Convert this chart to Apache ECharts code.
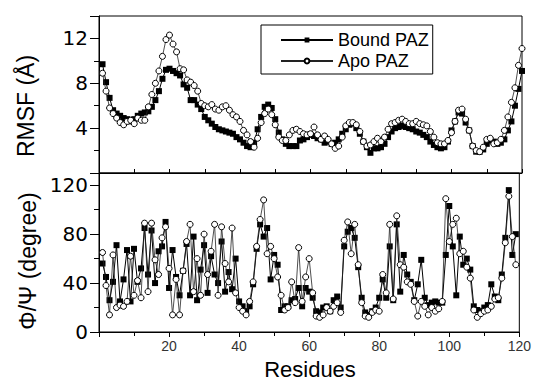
<!DOCTYPE html>
<html><head><meta charset="utf-8">
<script src="https://cdn.jsdelivr.net/npm/echarts@6/dist/echarts.min.js"></script>
<style>html,body{margin:0;padding:0;background:#fff}#c{width:534px;height:380px}</style>
</head><body><div id="c"></div>
<script>
const residues = [1,2,3,4,5,6,7,8,9,10,11,12,13,14,15,16,17,18,19,20,21,22,23,24,25,26,27,28,29,30,
31,32,33,34,35,36,37,38,39,40,41,42,43,44,45,46,47,48,49,50,51,52,53,54,55,56,57,58,59,60,
61,62,63,64,65,66,67,68,69,70,71,72,73,74,75,76,77,78,79,80,81,82,83,84,85,86,87,88,89,90,
91,92,93,94,95,96,97,98,99,100,101,102,103,104,105,106,107,108,109,110,111,112,113,114,115,116,117,118,119,120];

const boundRmsf = [9.7,8.1,6.7,5.6,5.3,5.1,4.9,4.8,4.6,4.8,
5.1,5.3,5.4,5.5,5.9,6.5,7.3,8.4,9.2,9.3,
9.1,8.9,8.7,7.9,7.6,6.5,6.5,6.1,5.7,5.0,
4.7,4.4,4.1,3.9,3.8,3.7,3.6,3.5,3.2,3.0,
2.7,2.4,2.3,2.7,3.9,5.0,5.9,6.1,5.8,4.8,
3.6,3.0,2.6,2.4,2.4,2.4,2.9,3.0,3.2,3.4,
3.3,3.1,3.0,2.7,2.8,2.6,2.7,3.0,3.5,3.9,
4.3,4.4,4.0,3.5,2.8,2.3,1.8,2.2,2.2,2.3,
2.6,3.2,3.7,4.0,4.1,4.2,4.1,4.0,3.9,3.7,
3.6,3.4,3.2,2.8,2.5,2.3,2.2,2.3,2.8,3.8,
4.6,5.4,5.3,4.5,3.8,2.4,1.9,1.9,2.1,2.6,
2.9,2.8,2.6,2.7,3.0,3.8,4.6,6.0,7.5,9.1];

const apoRmsf = [8.9,7.3,5.8,5.3,4.9,4.5,4.3,4.6,4.7,4.4,
4.9,4.7,4.7,5.9,7.0,8.0,9.1,10.4,11.9,12.3,
11.5,10.8,9.3,9.2,8.3,8.1,7.8,7.3,6.2,6.0,
5.9,6.1,5.7,5.6,5.9,6.0,5.6,5.2,5.0,4.6,
3.8,3.4,2.8,2.3,3.1,4.5,5.3,5.7,5.2,4.3,
3.2,2.9,2.9,3.4,3.8,3.9,3.7,3.5,3.4,3.5,
4.1,3.4,3.0,3.3,3.0,2.6,2.2,2.4,3.2,4.2,
4.5,4.5,4.3,3.7,2.8,2.4,2.5,2.8,3.1,2.8,
3.2,3.9,4.4,4.5,4.7,4.8,4.6,4.4,4.4,4.6,
4.4,4.3,4.2,3.7,3.2,2.7,2.6,2.6,2.9,3.6,
4.6,5.6,5.7,4.8,3.8,2.4,2.0,1.9,2.3,3.0,
3.1,2.6,2.7,3.0,3.8,5.0,6.3,7.6,9.6,11.1];

const boundPhiPsi = [56,45,26,41,71,25,43,67,25,68,
41,52,85,47,83,40,66,70,90,36,
67,45,30,50,72,30,78,26,51,71,
32,62,47,40,74,33,49,35,60,25,
21,17,21,39,68,88,78,85,43,63,
55,18,21,21,26,27,36,21,36,33,
28,17,16,20,21,17,26,29,20,70,
82,85,77,53,28,16,14,17,20,28,
43,28,70,26,88,33,63,47,41,26,
39,59,28,22,24,25,24,24,63,103,
70,30,78,55,60,51,21,18,17,20,
22,39,29,26,47,77,116,63,80];

const apoPhiPsi = [65,38,14,63,20,22,21,25,62,30,
42,28,89,33,89,59,47,77,86,52,
14,43,14,50,74,88,33,60,30,80,
47,66,88,30,86,56,41,85,32,20,
17,14,25,41,70,92,108,64,70,60,
45,30,18,20,41,24,69,25,45,60,
32,13,12,14,20,17,21,24,16,75,
90,64,88,55,24,13,12,16,18,17,
47,32,88,27,95,55,53,41,39,25,
13,25,21,14,20,17,19,25,109,74,
88,93,64,66,53,44,18,12,15,17,
18,21,27,28,44,73,111,78,55];

const rmsfTickLabels = [4, 8, 12];
const phiTickLabels = [0, 40, 80, 120];
const residueTickLabels = [20, 40, 60, 80, 100, 120];
const seriesNames = ['Bound PAZ', 'Apo PAZ'];
const rmsfTitle = 'RMSF (Å)';
const phiTitle = 'Φ/Ψ (degree)';
const xTitle = 'Residues';

function pairs(vals) { return vals.map((v, i) => [residues[i], v]); }

const FONT = '"Liberation Sans", Arial, sans-serif';
const NUMFONT = '"DejaVu Sans", sans-serif';
const BLACK = '#000';

const boundStyle = {
  symbol: 'rect', symbolSize: 6, showAllSymbol: true,
  itemStyle: { color: BLACK },
  lineStyle: { color: BLACK, width: 1 }
};
const apoStyle = {
  symbol: 'circle', symbolSize: 6, showAllSymbol: true,
  itemStyle: { color: '#fff', borderColor: BLACK, borderWidth: 1 },
  lineStyle: { color: '#222', width: 0.8 }
};

function yMajor(grid, max, interval, labels, tickLen) {
  return {
    gridIndex: grid, type: 'value', min: 0, max: max, interval: interval, position: 'left',
    axisLine: { show: true, lineStyle: { color: BLACK, width: 1 } },
    axisTick: { show: true, inside: false, length: tickLen, lineStyle: { color: BLACK } },
    axisLabel: {
      formatter: v => labels.includes(v) ? String(v) : '',
      fontFamily: NUMFONT, fontSize: 20, color: BLACK, margin: 11
    },
    splitLine: { show: false }
  };
}
function yMinor(grid, max, interval) {
  return {
    gridIndex: grid, type: 'value', min: 0, max: max, interval: interval, position: 'left',
    axisLine: { show: false },
    axisTick: { show: true, inside: false, length: 5, lineStyle: { color: BLACK } },
    axisLabel: { show: false },
    splitLine: { show: false }
  };
}

const chart = echarts.init(document.getElementById('c'), null, { renderer: 'svg' });
chart.setOption({
  animation: false,
  backgroundColor: '#fff',
  grid: [
    { left: 99, top: 16, width: 423, height: 157, show: true, borderColor: BLACK, borderWidth: 1 },
    { left: 99, top: 173, width: 423, height: 159, show: true, borderColor: BLACK, borderWidth: 1 }
  ],
  xAxis: [
    {
      gridIndex: 0, type: 'value', min: 0, max: 120, interval: 10, position: 'bottom',
      axisLine: { show: true, lineStyle: { color: BLACK } },
      axisTick: { show: true, inside: true, length: 4, lineStyle: { color: BLACK } },
      axisLabel: { show: false }, splitLine: { show: false }
    },
    {
      gridIndex: 1, type: 'value', min: 0, max: 120, interval: 20, position: 'bottom',
      axisLine: { show: true, lineStyle: { color: BLACK } },
      axisTick: { show: true, inside: false, length: 5, lineStyle: { color: BLACK } },
      minorTick: { show: true, splitNumber: 2, length: 3, lineStyle: { color: BLACK } },
      axisLabel: {
        formatter: v => residueTickLabels.includes(v) ? String(v) : '',
        fontFamily: FONT, fontSize: 14, color: '#333', margin: 7
      },
      splitLine: { show: false }, minorSplitLine: { show: false }
    },
    {
      gridIndex: 1, type: 'value', min: 0, max: 120, interval: 10, position: 'top',
      axisLine: { show: false },
      axisTick: { show: true, inside: true, length: 4, lineStyle: { color: BLACK } },
      axisLabel: { show: false }, splitLine: { show: false }
    }
  ],
  yAxis: [
    yMajor(0, 14, 4, rmsfTickLabels, 9),
    yMinor(0, 14, 2),
    yMajor(1, 130, 40, phiTickLabels, 9),
    yMinor(1, 130, 20)
  ],
  legend: {
    data: seriesNames,
    orient: 'vertical',
    left: 261, top: 25,
    padding: [5, 4, 3, 19],
    itemGap: 1,
    itemWidth: 52, itemHeight: 6,
    borderColor: BLACK, borderWidth: 1,
    backgroundColor: '#fff',
    textStyle: { fontFamily: FONT, fontSize: 18, color: BLACK, lineHeight: 20 }
  },
  series: [
    Object.assign({ name: seriesNames[0], type: 'line', xAxisIndex: 0, yAxisIndex: 0, data: pairs(boundRmsf), z: 2 }, boundStyle),
    Object.assign({ name: seriesNames[1], type: 'line', xAxisIndex: 0, yAxisIndex: 0, data: pairs(apoRmsf), z: 3 }, apoStyle),
    Object.assign({ name: seriesNames[0], type: 'line', xAxisIndex: 1, yAxisIndex: 2, data: pairs(boundPhiPsi), z: 2 }, boundStyle),
    Object.assign({ name: seriesNames[1], type: 'line', xAxisIndex: 1, yAxisIndex: 2, data: pairs(apoPhiPsi), z: 3 }, apoStyle)
  ],
  graphic: [
    { type: 'text', x: 26, y: 106, rotation: Math.PI / 2,
      style: { text: rmsfTitle, font: '23px ' + FONT, fill: BLACK, align: 'center', verticalAlign: 'middle', textAlign: 'center', textVerticalAlign: 'middle' } },
    { type: 'text', x: 28, y: 261, rotation: Math.PI / 2,
      style: { text: phiTitle, font: '23px ' + FONT, fill: BLACK, align: 'center', verticalAlign: 'middle', textAlign: 'center', textVerticalAlign: 'middle' } },
    { type: 'text', x: 310, y: 369,
      style: { text: xTitle, font: '22px ' + FONT, fill: BLACK, align: 'center', verticalAlign: 'middle', textAlign: 'center', textVerticalAlign: 'middle' } }
  ]
});
</script>
</body></html>
